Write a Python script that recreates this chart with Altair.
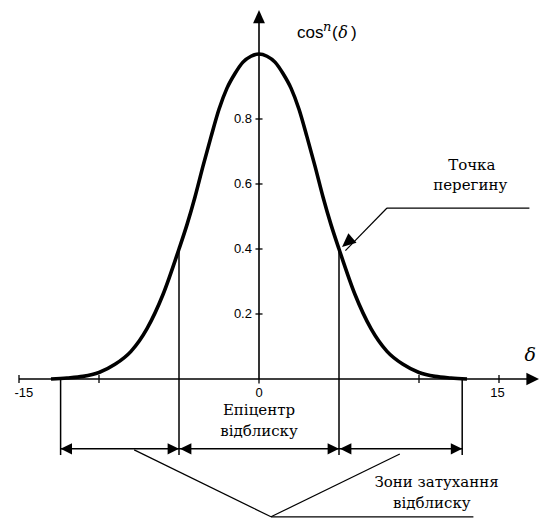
import altair as alt
import pandas as pd

# ---- data ----
delta = [-13, -12, -11, -10, -9, -8, -7, -6, -5, -4.5, -4, -3.5, -3, -2.5, -2, -1.5, -1, -0.5,
         0, 0.5, 1, 1.5, 2, 2.5, 3, 3.5, 4, 4.5, 5, 6, 7, 8, 9, 10, 11, 12, 13]
cos_n = [0.0, 0.003, 0.008, 0.02, 0.045, 0.085, 0.155, 0.26, 0.40, 0.475, 0.56, 0.655, 0.745,
         0.83, 0.895, 0.94, 0.975, 0.993,
         1.0, 0.993, 0.975, 0.94, 0.895, 0.83, 0.745, 0.655, 0.56, 0.475, 0.40, 0.26, 0.155,
         0.085, 0.045, 0.02, 0.008, 0.003, 0.0]

x_ticks = [-15, -10, 10, 15]
x_tick_labels = ["-15", "0", "15"]
x_tick_label_pos = [-14.7, 0, 14.9]
y_ticks = [0.2, 0.4, 0.6, 0.8]
y_tick_labels = ["0.2", "0.4", "0.6", "0.8"]

inflection = [-5, 5]          # inner vertical lines
zone_edges = [-12.4, 12.7]    # outer vertical lines
inflection_value = 0.40

SERIF = "DejaVu Serif"
SANS = "Liberation Sans"

# ---- scales ----
X_MIN, X_MAX = -15.6875, 17.5625
Y_MIN, Y_MAX = -0.4277, 1.1415
xs = alt.Scale(domain=[X_MIN, X_MAX], nice=False, zero=False)
ys = alt.Scale(domain=[Y_MIN, Y_MAX], nice=False, zero=False)


def X(f):
    return alt.X(f, type="quantitative", scale=xs, axis=None)


def Y(f):
    return alt.Y(f, type="quantitative", scale=ys, axis=None)


def segs(rows, width):
    df = pd.DataFrame(rows, columns=["x", "y", "x2", "y2"])
    return alt.Chart(df).mark_rule(color="black", strokeWidth=width).encode(
        x=X("x"), y=Y("y"), x2="x2", y2="y2")


ROW = -0.215      # arrow row
LOW = -0.234      # bottom of vertical lines

axes = segs([[-15, 0, 17.3, 0], [0, 0, 0, 1.10]], 1.6)
ticks = segs([[t, -0.012, t, 0.012] for t in x_ticks] + [[0, 0, 0, -0.014]] +
             [[-0.22, v, 0.22, v] for v in y_ticks], 1.3)
verticals = segs([[e, 0, e, LOW] for e in zone_edges] +
                 [[i, inflection_value, i, LOW] for i in inflection], 1.5)
arrow_row = segs([[zone_edges[0], ROW, zone_edges[1], ROW]], 1.5)
leaders = segs([[8.0, 0.526, 16.9, 0.526], [8.0, 0.526, 5.4, 0.395],
                [-7.8, -0.218, 0.75, -0.424], [0.75, -0.424, 8.8, -0.231],
                [0.75, -0.424, 13.4, -0.424]], 1.2)

curve = alt.Chart(pd.DataFrame({"d": delta, "v": cos_n})).mark_line(
    color="black", strokeWidth=3.6, interpolate="monotone").encode(x=X("d"), y=Y("v"))

RIGHT = "M0,0 L-1,-0.5 L-1,0.5 Z"
LEFT = "M0,0 L1,-0.5 L1,0.5 Z"
UP = "M0,0 L-0.45,1 L0.45,1 Z"


def heads(rows, shape, size, angle=0):
    df = pd.DataFrame(rows, columns=["x", "y"])
    return alt.Chart(df).mark_point(shape=shape, filled=True, color="black", opacity=1,
                                    size=size, angle=angle, strokeWidth=0).encode(
        x=X("x"), y=Y("y"))


h_left = heads([[zone_edges[0], ROW], [-4.94, ROW], [5.06, ROW]], LEFT, 520)
h_right = heads([[-5.0, ROW], [5.0, ROW], [zone_edges[1], ROW]], RIGHT, 520)
x_arrow = heads([[17.5, 0]], RIGHT, 640)
y_arrow = heads([[0, 1.135]], UP, 700)
infl_arrow = heads([[5.19, 0.406]], UP, 760, angle=229)


def texts(rows, font, size, align="center", baseline="middle", style="normal"):
    df = pd.DataFrame(rows, columns=["x", "y", "t"])
    return alt.Chart(df).mark_text(font=font, fontSize=size, align=align, baseline=baseline,
                                   fontStyle=style, color="black").encode(
        x=X("x"), y=Y("y"), text="t:N")


xlab = texts([[p, -0.043, t] for p, t in zip(x_tick_label_pos, x_tick_labels)], SANS, 13)
ylab = texts([[-0.44, v, t] for v, t in zip(y_ticks, y_tick_labels)], SANS, 13, align="right")
cos_lab = texts([[2.375, 1.049, "cos"], [4.56, 1.049, "("], [5.75, 1.049, ")"]],
                SANS, 17, align="left", baseline="alphabetic")
cos_sup = texts([[4.0, 1.07, "n"]], SERIF, 13, align="left",
                baseline="alphabetic", style="italic")
cos_delta = texts([[4.95, 1.049, "δ"]], SERIF, 16, align="left",
                  baseline="alphabetic", style="italic")
delta_lab = texts([[16.95, 0.074, "δ"]], SERIF, 19, style="italic")
notes = texts([[13.3, 0.658, "Точка"], [13.2, 0.597, "перегину"],
               [0, -0.095, "Епіцентр"], [0, -0.16, "відблиску"],
               [11.1, -0.317, "Зони затухання"], [10.8, -0.382, "відблиску"]],
              SERIF, 15)

chart = alt.layer(axes, ticks, verticals, arrow_row, leaders, curve,
                  h_left, h_right, x_arrow, y_arrow, infl_arrow,
                  xlab, ylab, cos_lab, cos_sup, cos_delta, delta_lab, notes).properties(
    width=532, height=510, autosize=alt.AutoSizeParams(type="none"), padding=0,
    background="white").configure_view(stroke=None)

chart.save("out.html", embed_options={"renderer": "svg", "actions": False})
